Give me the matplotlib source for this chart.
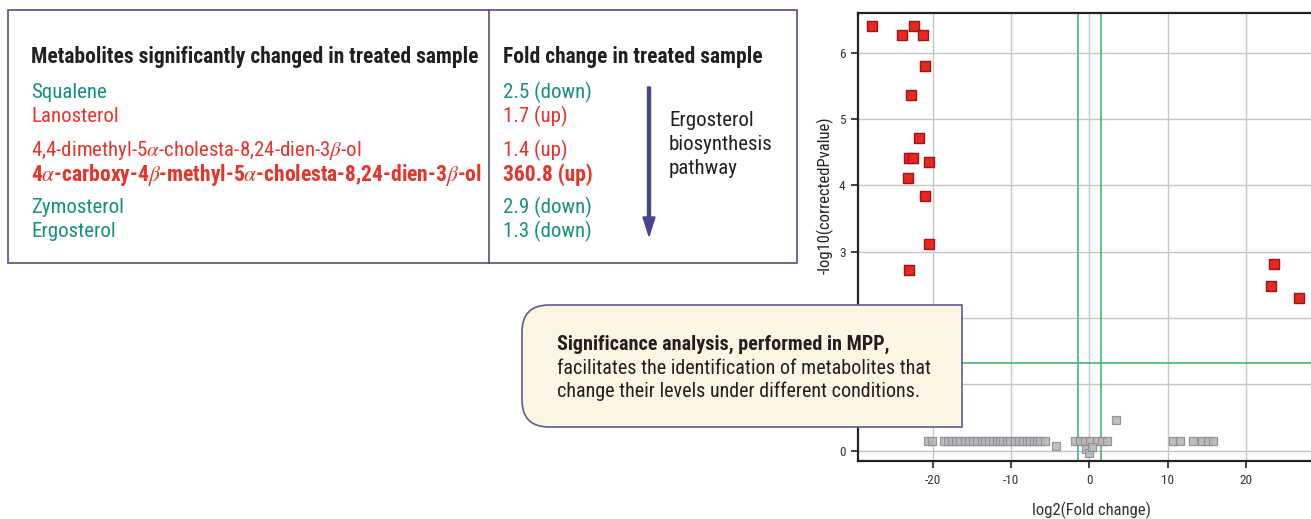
import matplotlib
matplotlib.use("Agg")
import matplotlib.pyplot as plt
from matplotlib.path import Path
from matplotlib.patches import PathPatch, Rectangle, FancyArrow
from matplotlib.transforms import Affine2D

# ---------------- data ----------------
metabolites = [
    "Squalene",
    "Lanosterol",
    "4,4-dimethyl-5$\\alpha$-cholesta-8,24-dien-3$\\beta$-ol",
    "4$\\alpha$-carboxy-4$\\beta$-methyl-5$\\alpha$-cholesta-8,24-dien-3$\\beta$-ol",
    "Zymosterol",
    "Ergosterol",
]
fold_changes = ["2.5 (down)", "1.7 (up)", "1.4 (up)", "360.8 (up)", "2.9 (down)", "1.3 (down)"]
directions = ["down", "up", "up", "up", "down", "down"]
bold_rows = [False, False, False, True, False, False]

sig_x = [-27.7, -23.9, -22.4, -21.2, -20.9, -22.7, -21.7, -23.0, -22.5, -20.4,
         -23.1, -21.0, -20.5, -23.0, 23.5, 23.2, 26.75]
sig_y = [6.41, 6.27, 6.41, 6.27, 5.80, 5.37, 4.71, 4.42, 4.42, 4.35,
         4.11, 3.84, 3.11, 2.73, 2.82, 2.49, 2.31]

ns_x = [-20.6, -20.1, -18.6, -18.0, -17.5, -17.0, -16.5, -15.9, -15.4, -14.8,
        -14.3, -13.7, -13.3, -12.8, -12.3, -11.8, -11.4, -11.0, -10.5, -10.1,
        -9.5, -9.0, -8.5, -8.0, -7.6, -7.1, -6.7, -6.3, -5.7, -4.2,
        -1.8, -1.2, -0.55, 0.1, 0.9, 1.6, 2.3, -0.4, 0.0, 0.3,
        3.4, 10.6, 11.55, 13.25, 14.3, 15.15, 15.8]
ns_y = [0.15, 0.15, 0.15, 0.15, 0.15, 0.15, 0.15, 0.15, 0.15, 0.15,
        0.15, 0.15, 0.15, 0.15, 0.15, 0.15, 0.15, 0.15, 0.15, 0.15,
        0.15, 0.15, 0.15, 0.15, 0.15, 0.15, 0.15, 0.15, 0.15, 0.07,
        0.15, 0.15, 0.15, 0.15, 0.15, 0.15, 0.15, 0.02, -0.03, 0.05,
        0.46, 0.15, 0.15, 0.15, 0.15, 0.15, 0.15]

fc_cutoffs = [-1.5, 1.45]
p_cutoff = 1.32
x_ticks = [-20, -10, 0, 10, 20]
y_ticks = [0, 1, 2, 3, 4, 5, 6]
y_ticklabels = ["0", "", "", "3", "4", "5", "6"]  # 1 and 2 are hidden behind the callout

# ---------------- style ----------------
FONT = ["Roboto Condensed", "Liberation Sans Narrow", "DejaVu Sans Condensed", "Roboto", "DejaVu Sans"]
plt.rcParams["font.family"] = FONT
plt.rcParams["mathtext.fontset"] = "stix"
plt.rcParams["axes.unicode_minus"] = False

TEAL = "#16907e"
RED = "#e8332a"
DARK = "#231f20"
NAVY = "#50508a"
FS = 15
FS_BOLD = 15.5
FS_CALL = 14.5

W, H = 1311, 519
fig = plt.figure(figsize=(W / 100, H / 100), dpi=100)
pix = Affine2D().scale(1 / W, -1 / H).translate(0, 1) + fig.transFigure


def ftext(x, y, s, **kw):
    return fig.text(x / W, 1 - y / H, s, va="center", ha="left", **kw)


# ---------------- table ----------------
fig.add_artist(Rectangle((8, 10), 789, 253, transform=pix, fill=False,
                         edgecolor=NAVY, lw=1.2, zorder=3))
fig.add_artist(plt.Line2D([489, 489], [10, 263], transform=pix, color=NAVY, lw=1.2, zorder=3))

ftext(31, 56.5, "Metabolites significantly changed in treated sample", fontsize=FS_BOLD,
      fontweight="bold", color=DARK)
ftext(503, 56.5, "Fold change in treated sample", fontsize=FS_BOLD, fontweight="bold", color=DARK)

row_y = [92.5, 116.5, 150.5, 174.5, 207.5, 231.5]
for name, fc, d, b, y in zip(metabolites, fold_changes, directions, bold_rows, row_y):
    col = TEAL if d == "down" else RED
    w = "bold" if b else "normal"
    fs = FS_BOLD if b else FS
    ftext(31, y, name, fontsize=fs, color=col, fontweight=w)
    ftext(503, y, fc, fontsize=fs, color=col, fontweight=w)

fig.add_artist(FancyArrow(649, 87, 0, 149, width=3, head_width=12, head_length=19,
                          length_includes_head=True, transform=pix,
                          color="#46468a", zorder=3))
for i, s in enumerate(["Ergosterol", "biosynthesis", "pathway"]):
    ftext(669, 120.5 + 24 * i, s, fontsize=FS, color=DARK)

# ---------------- volcano plot ----------------
ax = fig.add_axes([858 / W, (519 - 461) / H, (1311 - 858) / W, (461 - 13) / H])
ax.set_xlim(-29.5, 28.24)
ax.set_ylim(-0.155, 6.6)
ax.set_xticks(x_ticks)
ax.set_yticks(y_ticks)
ax.set_yticklabels(y_ticklabels)
ax.grid(True, color="#c6c6c6", lw=1.0)
ax.set_axisbelow(True)
for sp in ["left", "bottom", "top"]:
    ax.spines[sp].set_color("#222222")
    ax.spines[sp].set_linewidth(1.6)
ax.spines["right"].set_visible(False)
ax.tick_params(direction="out", length=5, width=1.2, color="#222222",
               labelsize=9.5, labelcolor="#333333", pad=4)

for xc in fc_cutoffs:
    ax.axvline(xc, color="#3dba72", lw=1.2, zorder=2)
ax.axhline(p_cutoff, color="#3dba72", lw=1.2, zorder=2)

ax.scatter(ns_x, ns_y, marker="s", s=36, facecolor="#b8b8bc", edgecolor="#8e8e92",
           lw=0.9, alpha=0.9, zorder=3, clip_on=False)
ax.scatter(sig_x, sig_y, marker="s", s=54, facecolor="#e8281e", edgecolor="#9e1414",
           lw=1.0, zorder=4, clip_on=False)

ax.set_xlabel("log2(Fold change)", fontsize=12, color="#333333")
ax.xaxis.set_label_coords((1091 - 858) / 453, (461 - 502) / 448)
ax.set_ylabel("-log10(correctedPvalue)", fontsize=12, color="#222222")
ax.yaxis.set_label_coords((834 - 858) / 453, (461 - 195) / 448)

# ---------------- callout ----------------
L, R, T, B, r = 522, 962, 305, 427, 27
verts = [(L + r, T), (R, T), (R, B), (L + r, B), (L, B), (L, B - r), (L, T + r), (L, T), (L + r, T), (L + r, T)]
codes = [Path.MOVETO, Path.LINETO, Path.LINETO, Path.LINETO, Path.CURVE3, Path.CURVE3,
         Path.LINETO, Path.CURVE3, Path.CURVE3, Path.CLOSEPOLY]
fig.add_artist(PathPatch(Path(verts, codes), transform=pix, facecolor="#fdf5e3",
                         edgecolor="#5c5c8e", lw=1.2, zorder=10))
ftext(557, 344, "Significance analysis, performed in MPP,", fontsize=FS_CALL,
      fontweight="bold", color=DARK, zorder=11)
ftext(557, 369, "facilitates the identification of metabolites that", fontsize=FS_CALL,
      color=DARK, zorder=11)
ftext(557, 391, "change their levels under different conditions.", fontsize=FS_CALL,
      color=DARK, zorder=11)

fig.savefig("out.png", dpi=100)
